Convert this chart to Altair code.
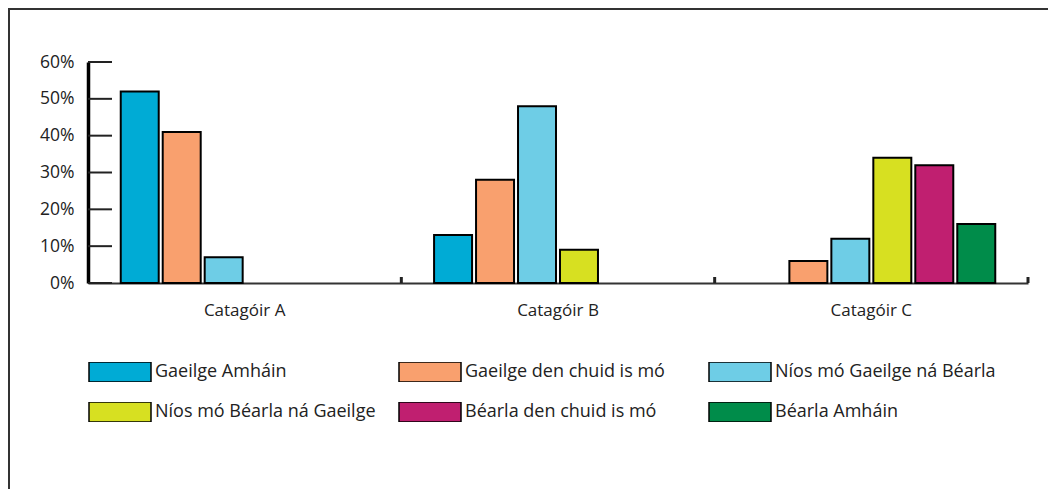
import altair as alt
import pandas as pd

categories = ["Catagóir A", "Catagóir B", "Catagóir C"]
series = [
    "Gaeilge Amháin",
    "Gaeilge den chuid is mó",
    "Níos mó Gaeilge ná Béarla",
    "Níos mó Béarla ná Gaeilge",
    "Béarla den chuid is mó",
    "Béarla Amháin",
]
colors = ["#00ABD5", "#F9A06E", "#6ECDE6", "#D7E021", "#C01F70", "#008C4A"]

gaeilge_amhain = [52, 13, 0]
gaeilge_den_chuid = [41, 28, 6]
nios_mo_gaeilge = [7, 48, 12]
nios_mo_bearla = [0, 9, 34]
bearla_den_chuid = [0, 0, 32]
bearla_amhain = [0, 0, 16]

y_ticks = [0, 10, 20, 30, 40, 50, 60]

all_values = [gaeilge_amhain, gaeilge_den_chuid, nios_mo_gaeilge,
              nios_mo_bearla, bearla_den_chuid, bearla_amhain]
rows = []
for s, vals in zip(series, all_values):
    for c, v in zip(categories, vals):
        rows.append({"cat": c, "series": s, "value": v})
df = pd.DataFrame(rows)

FONT = "Open Sans"
TXT = "#222222"

x_axis = alt.Axis(title=None, labelAngle=0, ticks=False, domainColor="#333333",
                  domainWidth=2, labelFontSize=17, labelColor=TXT,
                  labelPadding=19, labelFont=FONT)
y_axis = alt.Axis(title=None, values=y_ticks, labelExpr="datum.value + '%'",
                  tickSize=0, domainWidth=3.5, domainColor="black", grid=False,
                  labelFontSize=17.5, labelColor=TXT, labelPadding=14,
                  labelOverlap=False, labelFont=FONT)
x_scale = alt.Scale(paddingInner=0, paddingOuter=0)
y_scale = alt.Scale(domain=[0, 60], nice=False)

bars = alt.Chart(df).mark_bar(stroke="black").encode(
    x=alt.X("cat:N", sort=categories, scale=x_scale, axis=x_axis),
    xOffset=alt.XOffset("series:N", sort=series,
                        scale=alt.Scale(paddingInner=0.095, paddingOuter=0.78)),
    y=alt.Y("value:Q", scale=y_scale, axis=y_axis),
    strokeWidth=alt.condition(alt.datum.value == 0, alt.value(0), alt.value(2)),
    color=alt.Color("series:N", sort=series,
                    scale=alt.Scale(domain=series, range=colors),
                    legend=alt.Legend(
                        title=None, orient="none", legendX=0, legendY=300,
                        direction="horizontal",
                        columns=3, gridAlign="all", columnPadding=22, rowPadding=20,
                        symbolType="M-1,-0.3226L1,-0.3226L1,0.3226L-1,0.3226Z",
                        symbolSize=3844, symbolStrokeColor="black",
                        symbolStrokeWidth=1.5, symbolOpacity=1,
                        clipHeight=20, labelFontSize=18, labelOffset=3,
                        labelLimit=400, labelColor=TXT, labelFont=FONT,
                        padding=0)),
)

tick_df = pd.DataFrame({"t": y_ticks})
y_tick_rules = alt.Chart(tick_df).mark_rule(color="#222222", strokeWidth=2).encode(
    y=alt.Y("t:Q", scale=y_scale, axis=y_axis),
    x=alt.value(0),
    x2=alt.value(24),
)

cat_df = pd.DataFrame({"cat": categories})
x_tick_rules = alt.Chart(cat_df).mark_rule(color="#222222", strokeWidth=3).encode(
    x=alt.X("cat:N", sort=categories, bandPosition=1, scale=x_scale, axis=x_axis),
    y=alt.value(215),
    y2=alt.value(221),
)

one = pd.DataFrame({"a": [0]})
top_border = alt.Chart(one).mark_rule(color="#333333", strokeWidth=2).encode(
    x=alt.value(-80), x2=alt.value(960), y=alt.value(-53))
left_border = alt.Chart(one).mark_rule(color="#333333", strokeWidth=2).encode(
    x=alt.value(-79), y=alt.value(-53), y2=alt.value(430))

chart = alt.layer(top_border, left_border, bars, y_tick_rules, x_tick_rules).properties(
    width=940, height=221,
    padding={"left": 80, "top": 54, "right": 20, "bottom": 206},
    autosize=alt.AutoSizeParams(type="none"),
    background="white",
).configure(font=FONT).configure_view(strokeWidth=0)

chart.save("out.html", embed_options={"renderer": "svg", "actions": False})
